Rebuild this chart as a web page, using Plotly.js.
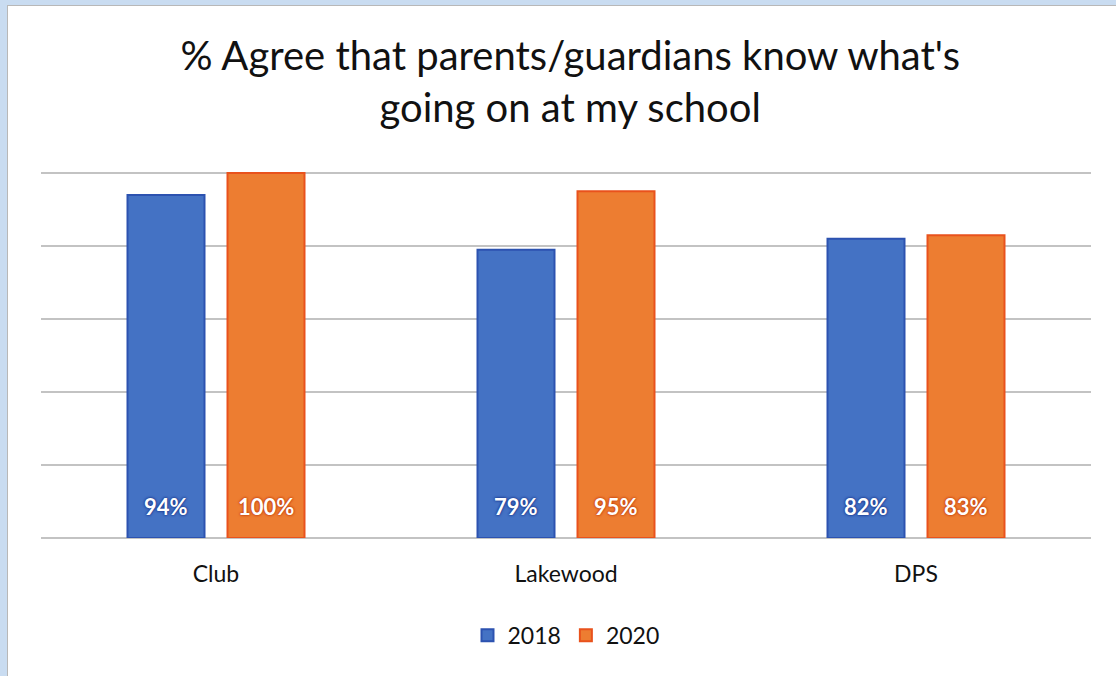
<!DOCTYPE html>
<html>
<head>
<meta charset="utf-8">
<script src="https://cdn.plot.ly/plotly-3.0.1.min.js"></script>
<style>
  html, body { margin: 0; padding: 0; background: #c9dcf1; width: 1116px; height: 676px; overflow: hidden; }
  #chart { position: absolute; left: 7px; top: 5px; width: 1109px; height: 671px; border-left: 1px solid #b8b8b8; border-top: 1px solid #b8b8b8; box-sizing: border-box; background: #fff; }
</style>
</head>
<body>
<div id="chart"></div>
<script>
const categories = ["Club", "Lakewood", "DPS"];
const series2018 = [94, 79, 82];
const series2020 = [100, 95, 83];
const seriesNames = ["2018", "2020"];
const titleText = "% Agree that parents/guardians know what's<br>going on at my school";

const FONT = "Lato, 'Open Sans', sans-serif";
const blue = "#4472c4", blueEdge = "#2c52b0";
const orange = "#ed7d31", orangeEdge = "#e9521c";

const traces = [
  { type: "bar", name: seriesNames[0], x: categories, y: series2018,
    marker: { color: blue, line: { color: blueEdge, width: 2 } }, hoverinfo: "none" },
  { type: "bar", name: seriesNames[1], x: categories, y: series2020,
    marker: { color: orange, line: { color: orangeEdge, width: 2 } }, hoverinfo: "none" }
];

const annotations = [];
[[series2018, -50, "#16338a"], [series2020, 50, "#c23a0a"]].forEach(([vals, shift, glow]) => {
  vals.forEach((v, i) => {
    annotations.push({
      x: categories[i], y: 0, xref: "x", yref: "y",
      text: "<b>" + v + "%</b>", showarrow: false,
      xshift: shift, yshift: 16, yanchor: "bottom",
      font: { family: FONT, size: 22, color: "#ffffff",
              shadow: "0px 0px 2px " + glow + ", 0px 0px 3px " + glow }
    });
  });
});

const layout = {
  width: 1109, height: 671,
  paper_bgcolor: "rgba(0,0,0,0)", plot_bgcolor: "rgba(0,0,0,0)",
  margin: { l: 33, r: 26, t: 166, b: 139 },
  font: { family: FONT, color: "#000" },
  title: { text: titleText, x: 0.504, xref: "paper", xanchor: "center",
           y: 1 - 64/671, yref: "container", yanchor: "middle",
           font: { family: FONT, size: 40, color: "#111" } },
  barmode: "group", bargap: 0.4286, bargroupgap: 0.23,
  xaxis: { showgrid: false, ticks: "", tickfont: { family: FONT, size: 23, color: "#111" },
           ticklabelstandoff: 20, showline: false, zeroline: false },
  yaxis: { range: [0, 100.3], tickvals: [20, 40, 60, 80, 100], showticklabels: false,
           gridcolor: "#c3c3c3", gridwidth: 2,
           zeroline: true, zerolinecolor: "#c3c3c3", zerolinewidth: 2, showline: false },
  showlegend: true,
  legend: { orientation: "h", x: 0.5, xanchor: "center", y: -0.266, yanchor: "middle",
            font: { family: FONT, size: 23, color: "#111" }, itemwidth: 30 },
  annotations: annotations
};

Plotly.newPlot("chart", traces, layout, { displayModeBar: false, staticPlot: true });
</script>
</body>
</html>
